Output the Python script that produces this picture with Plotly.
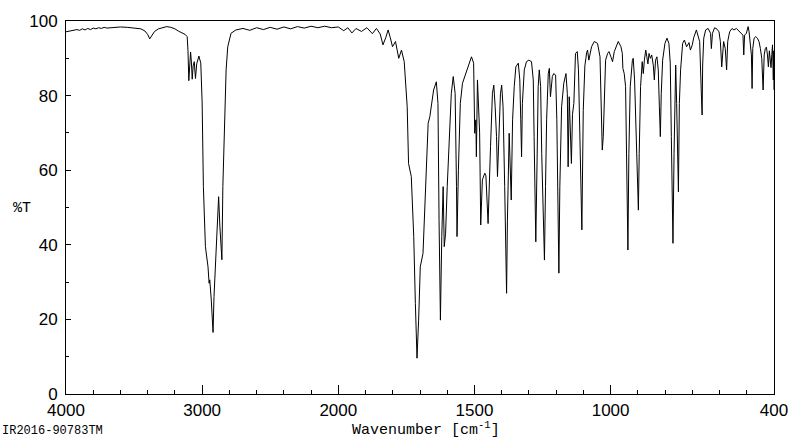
import plotly.graph_objects as go

# ---- data ----
wavenumber = [
    4000, 3970, 3940, 3920, 3900, 3880, 3860, 3840, 3820, 3800, 3780, 3760, 3740, 3720, 3700,
    3650, 3600, 3550, 3500, 3450, 3420, 3400, 3385, 3370, 3350, 3320, 3290, 3260, 3230, 3200,
    3175, 3150, 3125, 3110,
    3104, 3098, 3092, 3085, 3079, 3073, 3066, 3058, 3049, 3040, 3024, 3010, 3000, 2991, 2976,
    2957, 2949, 2944, 2933, 2920, 2913, 2901, 2889, 2879, 2870, 2862, 2855, 2848, 2836, 2824,
    2812, 2788, 2752,
    2700, 2650, 2600, 2550, 2500, 2450, 2400, 2350, 2300, 2250, 2200, 2150, 2100, 2050, 2000,
    1980, 1965, 1950, 1935, 1915, 1895, 1875, 1860,
    1846, 1836, 1826, 1817, 1809, 1801, 1790, 1778, 1768, 1758, 1747, 1742, 1732, 1723, 1717,
    1711, 1705, 1699, 1689, 1679, 1670, 1664, 1658, 1650, 1640, 1634, 1630, 1625, 1620, 1615,
    1611, 1606, 1600, 1593, 1585, 1578, 1571, 1566, 1564, 1559, 1552, 1544, 1536, 1523, 1511,
    1503, 1499, 1495, 1493, 1489, 1481, 1477, 1471, 1462, 1458, 1450, 1446, 1441, 1434, 1429,
    1424, 1419, 1415.5, 1411, 1404.5, 1400, 1395, 1389, 1385, 1382, 1379, 1374, 1372.5, 1365,
    1360, 1354, 1348, 1339, 1333.5, 1330, 1327, 1324, 1317, 1309, 1300.5, 1290.5, 1284, 1281,
    1277, 1274.7, 1270, 1266, 1262, 1257, 1253, 1247.5, 1243, 1239, 1235, 1229, 1225, 1221,
    1214, 1209, 1202, 1197.5, 1194, 1190, 1186.5, 1180, 1172, 1164, 1159, 1156, 1152, 1148,
    1144, 1140, 1135, 1129, 1122.5, 1118, 1113, 1108, 1105.6, 1100.5, 1094.6, 1088, 1084.7,
    1080, 1070, 1060, 1048, 1039, 1036, 1033, 1030.6, 1027, 1023, 1018.5, 1011, 1006, 999,
    993, 986.5, 972, 962, 957, 955, 950, 945, 941, 938.7, 936.5, 933, 928, 920, 917, 912, 907,
    902, 898, 895, 890, 884, 880, 876, 871, 867, 863, 859, 854, 849, 843, 839.5, 835, 830, 825,
    821, 817.4, 814, 809, 800.5, 793, 786, 781, 777, 773, 771, 767, 765, 761, 757.5, 754, 751,
    747.6, 743, 735.5, 729, 721, 712, 707, 700, 695, 685, 673, 669, 667, 664, 662, 658, 651,
    642, 633, 630, 626, 618, 609, 602, 597, 592, 588.5, 585, 579, 574, 570, 563, 554, 547, 538,
    532, 526, 520, 514, 511, 508, 501.5, 495, 491.5, 487, 483, 480.5, 478, 473, 467, 461, 455,
    450, 445, 440, 436, 432, 428, 424, 420.6, 417, 414, 411, 408, 405.5, 404, 402.5, 401.5,
    400.8, 400.3, 400,
]
transmittance = [
    97.1, 97.3, 97.4, 97.7, 97.5, 97.9, 97.6, 98.0, 97.7, 98.1, 97.9, 98.2, 98.0, 98.3, 98.1,
    98.3, 98.4, 98.3, 98.2, 97.9, 97.3, 96.4, 95.2, 96.0, 97.2, 97.9, 98.3, 98.5, 98.3, 97.9,
    97.3, 96.9, 96.4, 95.8,
    92.0, 84.0, 88.5, 91.7, 89.0, 84.4, 88.0, 89.1, 84.6, 88.5, 90.6, 88.7, 78.0, 55.6, 39.5,
    34.1, 29.7, 30.6, 25.2, 16.5, 26.1, 35.9, 46.6, 52.9, 45.0, 40.0, 36.0, 55.6, 73.5, 86.9,
    93.1, 96.7, 97.6,
    98.0, 97.5, 98.2, 97.7, 98.3, 97.8, 98.4, 97.9, 98.5, 98.1, 98.6, 98.2, 98.6, 98.2, 98.4,
    97.4, 98.2, 96.8, 98.0, 97.2, 98.2, 96.6, 98.0,
    96.5, 93.6, 95.5, 97.6, 95.5, 93.1, 94.5, 90.0, 92.2, 89.1, 77.0, 61.8, 58.3, 42.2, 24.3,
    9.6, 19.8, 34.1, 37.7, 57.4, 72.6, 74.3, 77.9, 81.5, 83.7, 77.9, 46.6, 19.8, 42.2, 55.6,
    39.5, 43.1, 55.6, 69.0, 80.6, 85.1, 80.6, 55.6, 42.2, 60.0, 77.9, 83.3, 85.1, 87.7, 90.4,
    88.7, 69.9, 73.5, 63.6, 84.2, 70.0, 45.3, 57.4, 59.2, 58.5, 45.7, 58.3, 66.3, 80.6, 82.8,
    77.0, 69.0, 58.3, 69.0, 80.6, 82.8, 77.0, 55.6, 37.7, 27.0, 46.6, 64.5, 69.9, 52.0,
    73.5, 82.4, 87.7, 88.7, 84.2, 73.5, 63.6, 77.9, 86.9, 89.1, 89.5, 89.1, 84.2, 69.0,
    51.1, 40.8, 62.7, 82.4, 86.9, 82.4, 64.5, 46.6, 35.9, 55.6, 73.5, 85.9, 87.3, 79.7,
    85.1, 85.9, 85.5, 73.5, 55.6, 32.4, 55.6, 77.0, 83.3, 85.9, 80.6, 60.9, 79.7, 73.0,
    61.8, 75.0, 77.9, 91.3, 91.8, 86.9, 69.0, 50.2, 44.0, 76.0, 88.0, 91.5, 92.2,
    89.5, 93.1, 94.5, 94.0, 90.4, 77.9, 68.1, 65.4, 69.0, 82.4, 89.5, 91.3, 91.8, 90.4,
    89.1, 91.8, 94.5, 93.1, 91.3, 87.3, 85.9, 82.4, 64.5, 46.6, 38.6, 64.5, 82.4, 89.5, 90.0, 84.2, 69.0,
    57.4, 49.3, 64.5, 82.4, 89.1, 85.9, 89.5, 92.2, 90.4, 88.5, 91.3, 90.0, 90.9, 88.0, 84.2, 89.5, 90.4, 86.9,
    77.0, 69.0, 80.6, 89.5, 94.0, 95.4, 94.0, 88.7, 69.0, 51.1, 40.4, 64.5, 77.9, 88.2, 77.9, 64.5, 54.2,
    77.9, 86.9, 94.0, 94.9, 93.1, 94.2, 92.2, 93.6, 95.5, 97.6, 94.5, 88.2, 81.0, 74.8, 88.2, 95.4, 97.6,
    98.0, 96.7, 92.6, 96.7, 98.2, 97.8, 97.1, 94.5, 87.7, 92.6, 94.5, 92.6, 86.9, 94.5, 97.1, 98.0, 97.6, 98.0,
    97.6, 97.1, 96.7, 96.2, 90.9, 96.2, 96.7, 98.5, 97.1, 94.5, 90.9, 81.9, 92.6, 95.4, 95.8, 95.4, 94.5,
    92.6, 90.0, 81.5, 90.9, 92.6, 93.0, 90.9, 87.7, 92.0, 88.2, 87.5, 91.0, 93.6, 89.0, 84.2, 90.0,
    92.0, 84.0, 81.5,
]
major_ticks = [4000, 3000, 2000, 1500, 1000, 400]
major_labels = ["4000", "3000", "2000", "1500", "1000", "400"]


def to_axis(w):
    # IR chart convention: scale above 2000 cm-1 is compressed by a factor 2
    return 2000 + (w - 2000) / 2 if w > 2000 else w


x_axis = [to_axis(w) for w in wavenumber]

fig = go.Figure()
fig.add_trace(go.Scatter(
    x=x_axis, y=transmittance, mode="lines",
    line=dict(color="black", width=1), hoverinfo="skip", showlegend=False,
))

tick_font = dict(family="Liberation Sans, Arial, sans-serif", size=17, color="black")
mono = "Liberation Mono, Courier New, monospace"

fig.update_layout(
    width=800, height=441,
    margin=dict(l=66, r=22, t=21, b=47),
    paper_bgcolor="white", plot_bgcolor="white",
    xaxis=dict(
        range=[to_axis(4000), to_axis(400)],
        tickmode="array",
        tickvals=[to_axis(v) for v in major_ticks],
        ticktext=major_labels,
        ticks="inside", ticklen=9, tickcolor="black", tickwidth=1,
        minor=dict(tickmode="linear", tick0=0, dtick=100, ticks="inside", ticklen=4,
                   tickcolor="black", tickwidth=1, showgrid=False),
        showline=True, linecolor="black", linewidth=1, mirror=True,
        showgrid=False, zeroline=False, tickfont=tick_font,
        ticklabelstandoff=1,
    ),
    yaxis=dict(
        range=[0, 100], tickmode="linear", tick0=0, dtick=20,
        ticks="inside", ticklen=5, tickcolor="black", tickwidth=1,
        minor=dict(tickmode="linear", tick0=0, dtick=10, ticks="inside", ticklen=3,
                   tickcolor="black", tickwidth=1, showgrid=False),
        showline=True, linecolor="black", linewidth=1, mirror=True,
        showgrid=False, zeroline=False, tickfont=tick_font,
        ticklabelstandoff=4,
    ),
    annotations=[
        dict(text="Wavenumber [cm<sup>-1</sup>]", xref="paper", yref="paper",
             x=(428 - 66) / 712, y=(394 - 441) / 373, xanchor="center", yanchor="bottom",
             showarrow=False, font=dict(family=mono, size=15, color="black")),
        dict(text="%T", xref="paper", yref="paper",
             x=(22 - 66) / 712, y=(394 - 208) / 373, xanchor="center", yanchor="middle",
             showarrow=False, font=dict(family=mono, size=15, color="black")),
        dict(text="IR2016-90783TM", xref="paper", yref="paper",
             x=(0 - 66) / 712, y=(394 - 440) / 373, xanchor="left", yanchor="bottom",
             showarrow=False, font=dict(family=mono, size=12, color="black")),
    ],
)

fig.write_html("out.html")
